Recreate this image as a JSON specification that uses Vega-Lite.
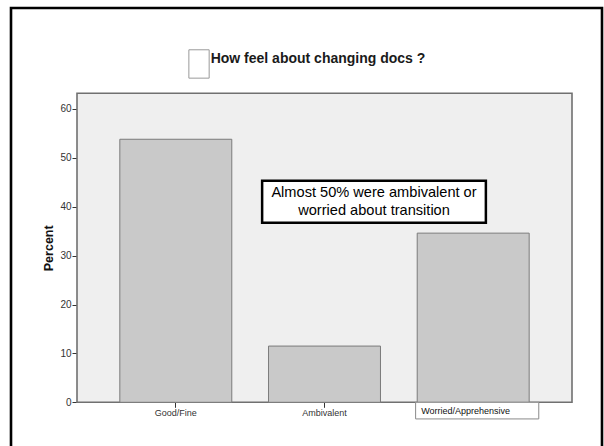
{
  "$schema": "https://vega.github.io/schema/vega-lite/v6.json",
  "width": 591,
  "height": 445,
  "autosize": "none",
  "padding": {"left": 11, "top": 8, "right": 2, "bottom": 0},
  "background": "white",
  "config": {
    "font": "Liberation Sans",
    "view": {"stroke": "#000000", "strokeWidth": 2.6, "fill": "white"}
  },
  "title": {
    "text": "How feel about changing docs ?",
    "fontSize": 14,
    "fontWeight": "bold",
    "color": "#1a1a1a",
    "anchor": "middle",
    "baseline": "middle",
    "offset": -65,
    "dx": 11.5
  },
  "datasets": {
    "feelings": [
      {"response": "Good/Fine", "percent": 53.8},
      {"response": "Ambivalent", "percent": 11.5},
      {"response": "Worried/Apprehensive", "percent": 34.6}
    ],
    "relabelled": [
      {"response": "Worried/Apprehensive", "label": "Worried/Apprehensive"}
    ],
    "callout": [
      {"note": ["Almost 50% were ambivalent or", "worried about transition"]}
    ],
    "panel": [
      {"part": "plot area"}
    ]
  },
  "layer": [
    {
      "data": {"name": "panel"},
      "mark": {"type": "rect", "fill": "#efefef", "stroke": "#707070", "strokeWidth": 1.6},
      "encoding": {
        "x": {"datum": 0, "type": "quantitative", "scale": {"domain": [0, 1], "range": [66, 561]}, "axis": null},
        "x2": {"datum": 1},
        "y": {"datum": 0, "type": "quantitative"},
        "y2": {"datum": 63.2}
      }
    },
    {
      "data": {"name": "feelings"},
      "mark": {"type": "bar", "fill": "#c9c9c9", "stroke": "#7b7b7b", "strokeWidth": 1},
      "encoding": {
        "x": {
          "field": "response",
          "type": "nominal",
          "sort": null,
          "scale": {
            "type": "band",
            "domain": ["Good/Fine", "Ambivalent", "Worried/Apprehensive"],
            "range": [66, 561],
            "paddingInner": 0.247,
            "paddingOuter": 0.288
          },
          "axis": {
            "orient": "bottom",
            "offset": -50.7,
            "title": null,
            "domain": false,
            "tickSize": 5,
            "tickColor": "#333333",
            "labelFontSize": 9,
            "labelColor": "#333333",
            "labelPadding": 1,
            "labelAngle": 0,
            "labelExpr": "datum.value == 'Worried/Apprehensive' ? '' : datum.value"
          }
        },
        "y": {
          "field": "percent",
          "type": "quantitative",
          "scale": {"domain": [0, 63.2], "range": [394.3, 85.3], "nice": false, "zero": true},
          "axis": {
            "offset": -66,
            "title": "Percent",
            "titleFontSize": 12.5,
            "titleFontWeight": "bold",
            "titleColor": "#111111",
            "titlePadding": 4,
            "domain": false,
            "grid": false,
            "values": [0, 10, 20, 30, 40, 50, 60],
            "tickSize": 5,
            "tickColor": "#333333",
            "labelFontSize": 10,
            "labelColor": "#333333",
            "labelPadding": 1
          }
        }
      }
    },
    {
      "data": {"name": "relabelled"},
      "mark": {"type": "bar", "fill": "white", "stroke": "#8a8a8a", "strokeWidth": 1, "width": {"band": 1.1}, "xOffset": 4},
      "encoding": {
        "x": {
          "field": "response",
          "type": "nominal",
          "scale": {
            "type": "band",
            "domain": ["Good/Fine", "Ambivalent", "Worried/Apprehensive"],
            "range": [66, 561],
            "paddingInner": 0.247,
            "paddingOuter": 0.288
          },
          "axis": null
        },
        "y": {"datum": 0, "type": "quantitative"},
        "y2": {"datum": -3.4}
      }
    },
    {
      "data": {"name": "relabelled"},
      "mark": {"type": "text", "align": "left", "baseline": "middle", "dx": 4, "fontSize": 9, "color": "#111111"},
      "encoding": {
        "x": {
          "field": "response",
          "type": "nominal",
          "bandPosition": 0,
          "scale": {
            "type": "band",
            "domain": ["Good/Fine", "Ambivalent", "Worried/Apprehensive"],
            "range": [66, 561],
            "paddingInner": 0.247,
            "paddingOuter": 0.288
          },
          "axis": null
        },
        "y": {"datum": -1.75, "type": "quantitative"},
        "text": {"field": "label"}
      }
    },
    {
      "data": {"name": "callout"},
      "mark": {"type": "rect", "fill": "white", "stroke": "#000000", "strokeWidth": 2.5},
      "encoding": {
        "x": {"datum": 0.374, "type": "quantitative", "scale": {"domain": [0, 1], "range": [66, 561]}, "axis": null},
        "x2": {"datum": 0.826},
        "y": {"datum": 45.3, "type": "quantitative"},
        "y2": {"datum": 36.7}
      }
    },
    {
      "data": {"name": "callout"},
      "mark": {"type": "text", "align": "center", "baseline": "middle", "fontSize": 14.6, "lineHeight": 18, "color": "#000000"},
      "encoding": {
        "x": {"datum": 0.6, "type": "quantitative", "scale": {"domain": [0, 1], "range": [66, 561]}, "axis": null},
        "y": {"datum": 42.8, "type": "quantitative"},
        "text": {"field": "note"}
      }
    },
    {
      "data": {"name": "panel"},
      "mark": {"type": "rect", "fill": "white", "stroke": "#9a9a9a", "strokeWidth": 1},
      "encoding": {
        "x": {"datum": 0.226, "type": "quantitative", "scale": {"domain": [0, 1], "range": [66, 561]}, "axis": null},
        "x2": {"datum": 0.267},
        "y": {"datum": 72.1, "type": "quantitative"},
        "y2": {"datum": 66.3}
      }
    }
  ],
  "resolve": {"scale": {"x": "independent"}, "axis": {"x": "independent"}}
}
